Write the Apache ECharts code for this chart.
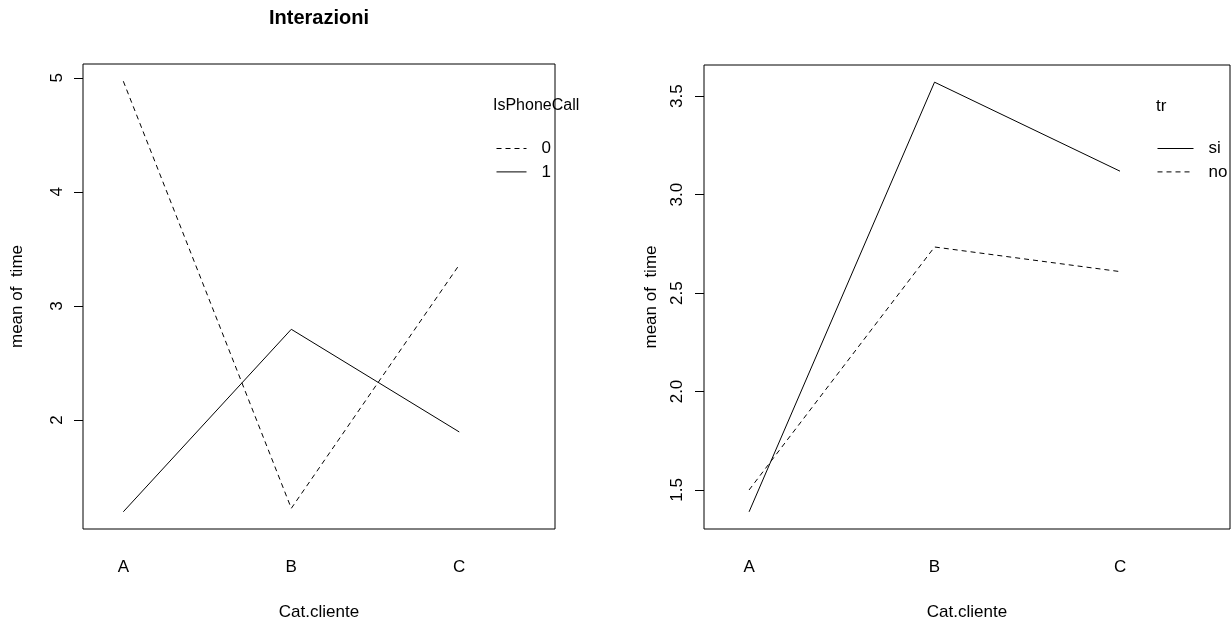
<!DOCTYPE html>
<html>
<head>
<meta charset="utf-8">
<script src="https://cdn.jsdelivr.net/npm/echarts@6/dist/echarts.min.js"></script>
<style>
  html, body { margin: 0; padding: 0; background: #fff; }
  #chart { width: 1231px; height: 626px; }
</style>
</head>
<body>
<div id="chart"></div>
<script>
// Categories of the client type
const categories = ['A', 'B', 'C'];
const xPos = [1, 2, 3];

// Left panel: mean of time by Cat.cliente for IsPhoneCall = 0 / 1
const phoneCall0 = [4.97, 1.225, 3.36];
const phoneCall1 = [1.195, 2.795, 1.895];
const leftTicks = [2, 3, 4, 5];

// Right panel: mean of time by Cat.cliente for tr = si / no
const trSi = [1.389, 3.571, 3.119];
const trNo = [1.5, 2.734, 2.609];
const rightTicks = [1.5, 2.0, 2.5, 3.0, 3.5];

const FONT = '"Liberation Sans", Arial, Helvetica, sans-serif';
const FS = 17;
const DASH = [5, 4];

function pairs(vals) { return vals.map((v, i) => [xPos[i], v]); }

// R-style 4% padding of the data range
function padRange(arrs) {
  const all = [].concat(...arrs);
  const lo = Math.min(...all), hi = Math.max(...all);
  const d = hi - lo;
  return [lo - 0.04 * d, hi + 0.04 * d];
}
const leftRange = padRange([phoneCall0, phoneCall1]);
const rightRange = padRange([trSi, trNo]);

function xAxisOf(gridIndex, min, max) {
  return {
    type: 'value', gridIndex, min, max,
    splitLine: { show: false },
    axisLine: { show: false },
    axisTick: { show: false },
    axisLabel: {
      customValues: xPos,
      formatter: v => categories[Math.round(v) - 1],
      margin: 30,
      color: '#000', fontFamily: FONT, fontSize: FS
    },
    name: 'Cat.cliente', nameLocation: 'middle', nameGap: 75,
    nameTextStyle: { color: '#000', fontFamily: FONT, fontSize: FS }
  };
}

function yAxisOf(gridIndex, range, ticks, fmt, nameGap, margin) {
  return {
    type: 'value', gridIndex, min: range[0], max: range[1],
    splitLine: { show: false },
    axisLine: { show: false },
    axisTick: { show: true, customValues: ticks, length: 9, lineStyle: { color: '#000', width: 1 } },
    axisLabel: {
      customValues: ticks, formatter: fmt, rotate: 90, margin,
      color: '#000', fontFamily: FONT, fontSize: FS
    },
    name: 'mean of  time', nameLocation: 'middle', nameGap, nameRotate: 90,
    nameTextStyle: { color: '#000', fontFamily: FONT, fontSize: FS }
  };
}

function lineSeries(name, vals, idx, dashed) {
  return {
    name, type: 'line', xAxisIndex: idx, yAxisIndex: idx,
    data: pairs(vals), symbol: 'none', silent: true, animation: false,
    color: '#000',
    lineStyle: { color: '#000', width: 1, type: dashed ? DASH : 'solid' }
  };
}

function legendOf(names, left, width) {
  return {
    data: names, orient: 'vertical', left, top: 140, padding: 0,
    itemWidth: width, itemHeight: 10, itemGap: 6.4, selectedMode: false,
    itemStyle: { opacity: 0 },
    lineStyle: { width: 1, color: '#000' },
    textStyle: { fontFamily: FONT, fontSize: FS, color: '#000', padding: [0, 0, 0, 10] }
  };
}

const chart = echarts.init(document.getElementById('chart'));
chart.setOption({
  backgroundColor: '#fff',
  animation: false,
  title: [
    { text: 'Interazioni', left: 269, top: 8, padding: 0,
      textStyle: { fontFamily: FONT, fontSize: 20, fontWeight: 'bold', color: '#000' } },
    { text: 'IsPhoneCall', left: 493, top: 98, padding: 0,
      textStyle: { fontFamily: FONT, fontSize: 16, fontWeight: 'normal', color: '#000' } },
    { text: 'tr', left: 1156, top: 98, padding: 0,
      textStyle: { fontFamily: FONT, fontSize: FS, fontWeight: 'normal', color: '#000' } }
  ],
  grid: [
    { left: 83, top: 64, width: 472, height: 467, show: true, borderColor: '#000', borderWidth: 1, backgroundColor: 'transparent' },
    { left: 704, top: 65, width: 526, height: 466, show: true, borderColor: '#000', borderWidth: 1, backgroundColor: 'transparent' }
  ],
  xAxis: [xAxisOf(0, 0.76, 3.57), xAxisOf(1, 0.757, 3.593)],
  yAxis: [
    yAxisOf(0, leftRange, leftTicks, v => String(v), 57, 17),
    yAxisOf(1, rightRange, rightTicks, v => v.toFixed(1), 44, 18)
  ],
  legend: [legendOf(['0', '1'], 496, 30), legendOf(['si', 'no'], 1157, 36)],
  series: [
    lineSeries('0', phoneCall0, 0, true),
    lineSeries('1', phoneCall1, 0, false),
    lineSeries('si', trSi, 1, false),
    lineSeries('no', trNo, 1, true)
  ]
});
</script>
</body>
</html>
